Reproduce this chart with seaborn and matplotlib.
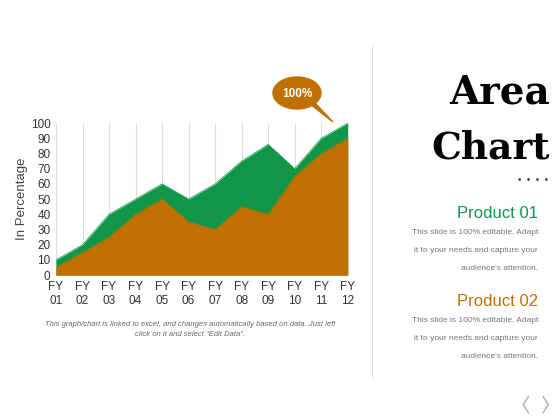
import matplotlib
matplotlib.use("Agg")
import matplotlib.pyplot as plt
from matplotlib.patches import Ellipse, Polygon
import seaborn as sns
import pandas as pd

# ---------------------------- data ----------------------------
years = ['FY\n01', 'FY\n02', 'FY\n03', 'FY\n04', 'FY\n05', 'FY\n06',
         'FY\n07', 'FY\n08', 'FY\n09', 'FY\n10', 'FY\n11', 'FY\n12']
product_01 = [10, 20, 40, 50, 60, 50, 60, 75, 86, 70, 90, 100]
product_02 = [5, 15, 25, 40, 50, 35, 30, 45, 40, 65, 80, 90]
y_ticks = [0, 10, 20, 30, 40, 50, 60, 70, 80, 90, 100]

green = '#0F9648'
orange = '#C07000'

df = pd.DataFrame({'idx': range(len(years)), 'Product 01': product_01, 'Product 02': product_02})

sns.set_style('white')
plt.rcParams['font.family'] = ['Liberation Sans', 'DejaVu Sans']

fig = plt.figure(figsize=(5.6, 4.2), dpi=100)
ax = fig.add_axes([0.1, 0.345, 0.521, 0.362])

# areas (overlapping, green behind orange)
ax.fill_between(df['idx'], 0, df['Product 01'], color=green, lw=0, zorder=2)
ax.fill_between(df['idx'], 0, df['Product 02'], color=orange, lw=0, zorder=3)
sns.lineplot(data=df, x='idx', y='Product 01', ax=ax, color=green, lw=0.5, zorder=2)
sns.lineplot(data=df, x='idx', y='Product 02', ax=ax, color=orange, lw=0.5, zorder=3)

ax.set_xlim(0, len(years) - 1)
ax.set_ylim(0, 100)
ax.set_xticks(range(len(years)))
ax.set_xticklabels(years, fontsize=8.5, color='#333333', linespacing=1.3)
ax.set_yticks(y_ticks)
ax.set_yticklabels(y_ticks, fontsize=8.5, color='#333333')
ax.tick_params(length=0, pad=4)
ax.grid(axis='x', color='#dddddd', lw=0.8, zorder=1)
ax.grid(axis='y', visible=False)
for s in ax.spines.values():
    s.set_visible(False)
ax.set_xlabel('')
ax.set_ylabel('In Percentage', fontsize=9.5, color='#444444', labelpad=2)

# speech bubble
bubble = Ellipse((297, 420 - 93), 48, 32, transform=None, color=orange, zorder=5)
tail = Polygon([(305, 420 - 100), (316, 420 - 104), (333, 420 - 122)], closed=True,
               transform=None, color=orange, zorder=5)
fig.add_artist(tail)
fig.add_artist(bubble)
fig.text(297 / 560, 1 - 94 / 420, '100%', color='white', fontsize=8.5, fontweight='bold',
         ha='center', va='center', zorder=6)

# caption
fig.text(190 / 560, 1 - 325 / 420, 'This graph/chart is linked to excel, and changes automatically based on data. Just left',
         fontsize=5.5, style='italic', color='#666666', ha='center', va='center')
fig.text(190 / 560, 1 - 335 / 420, 'click on it and select "Edit Data".',
         fontsize=5.5, style='italic', color='#666666', ha='center', va='center')

# separator
fig.add_artist(plt.Line2D([372 / 560, 372 / 560], [1 - 45 / 420, 1 - 378 / 420], color='#dddddd', lw=0.8))

# right panel
fig.text(550 / 560, 1 - 93 / 420, 'Area', family='DejaVu Serif', fontweight='bold', fontsize=28,
         ha='right', va='center', color='black')
fig.text(550 / 560, 1 - 148 / 420, 'Chart', family='DejaVu Serif', fontweight='bold', fontsize=27,
         ha='right', va='center', color='black')
fig.text(548 / 560, 1 - 180 / 420, '\u2022  \u2022  \u2022  \u2022', fontsize=7, color='#444444',
         ha='right', va='center')

body = ['This slide is 100% editable. Adapt', 'it to your needs and capture your', "audience's attention."]
for title, col, ty in [('Product 01', green, 213), ('Product 02', orange, 302)]:
    fig.text(538 / 560, 1 - ty / 420, title, fontsize=12, color=col, ha='right', va='center')
    for i, line in enumerate(body):
        fig.text(538 / 560, 1 - (ty + 19 + 18 * i) / 420, line, fontsize=6, color='#777777',
                 ha='right', va='center')

fig.text(520 / 560, 1 - 407 / 420, '\u3008', fontsize=14, color='#aaaaaa', ha='center', va='center',
         family=['Noto Sans CJK JP', 'DejaVu Sans'])
fig.text(551 / 560, 1 - 407 / 420, '\u3009', fontsize=14, color='#aaaaaa', ha='center', va='center',
         family=['Noto Sans CJK JP', 'DejaVu Sans'])

fig.savefig('out.png', dpi=100)
